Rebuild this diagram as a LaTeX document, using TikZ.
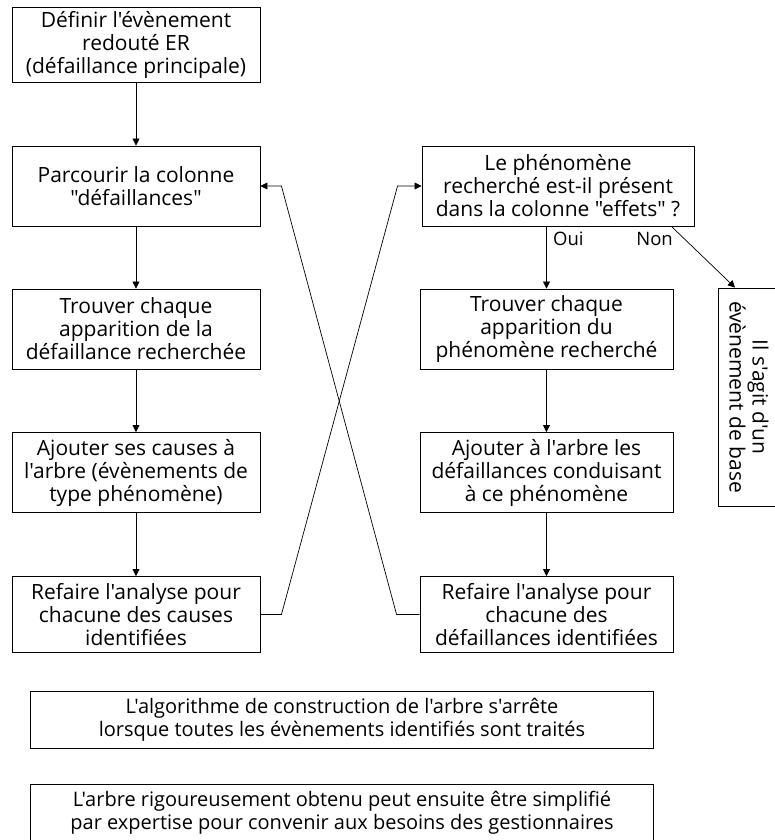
\documentclass[tikz,border=0pt]{standalone}
\usepackage{fontspec}
\newfontfamily\uifont{Open Sans}
\usetikzlibrary{arrows.meta}

\tikzset{
  stepbox/.style={draw, line width=0.9pt, align=center, inner sep=2pt,
    font=\uifont\fontsize{21}{23}\selectfont},
  leftbox/.style={stepbox, minimum width=248pt, minimum height=80pt},
  rightbox/.style={stepbox, minimum width=253pt, minimum height=80pt},
  notebox/.style={stepbox, minimum width=623pt, minimum height=57pt,
    font=\uifont\fontsize{20}{22.5}\selectfont},
  link/.style={->, line width=0.7pt},
  answer/.style={font=\uifont\fontsize{18.5}{20}\selectfont, inner sep=1pt}
}

\begin{document}
\begin{tikzpicture}[x=1pt, y=-1pt, >={Triangle[length=7pt,width=7pt]}]
  \useasboundingbox (0,0) rectangle (774,840);

  % left column
  \node[leftbox, minimum height=75pt] (define) at (136,44.5) {Définir l'évènement\\redouté ER\\(défaillance principale)};
  \node[leftbox] (browse) at (136,186) {Parcourir la colonne\\"défaillances"};
  \node[leftbox] (findfail) at (136,329) {Trouver chaque\\apparition de la\\défaillance recherchée};
  \node[leftbox] (addcause) at (136,472.5) {Ajouter ses causes à\\l'arbre (évènements de\\type phénomène)};
  \node[leftbox, minimum height=76pt] (redocause) at (136,614.5) {Refaire l'analyse pour\\chacune des causes\\identifiées};

  % right column
  \node[stepbox, minimum width=272pt, minimum height=80pt] (present) at (558,186) {Le phénomène\\recherché est-il présent\\dans la colonne "effets" ?};
  \node[rightbox] (findphen) at (546.5,329) {Trouver chaque\\apparition du\\phénomène recherché};
  \node[rightbox] (addfail) at (546.5,472.5) {Ajouter à l'arbre les\\défaillances conduisant\\à ce phénomène};
  \node[rightbox, minimum height=76pt] (redofail) at (546.5,614.5) {Refaire l'analyse pour\\chacune des\\défaillances identifiées};
  \node[stepbox, rotate=-90, minimum width=218pt, minimum height=62pt] (base) at (749,397) {Il s'agit d'un\\évènement de base};

  % notes
  \node[notebox] (stop) at (342,719.5) {L'algorithme de construction de l'arbre s'arrête\\lorsque toutes les évènements identifiés sont traités};
  \node[notebox] (simplify) at (342,812.5) {L'arbre rigoureusement obtenu peut ensuite être simplifié\\par expertise pour convenir aux besoins des gestionnaires};

  \draw[link] (define) -- (browse);
  \draw[link] (browse) -- (findfail);
  \draw[link] (findfail) -- (addcause);
  \draw[link] (addcause) -- (redocause);

  \draw[link] (present.south -| findphen) -- (findphen);
  \draw[link] (findphen) -- (addfail);
  \draw[link] (addfail) -- (redofail);
  \draw[link] ([xshift=-23pt]present.south east) -- ([xshift=-14pt]base.west);

  \node[answer, right] (oui) at (552,239) {Oui};
  \node[answer, left] (non) at (674,239) {Non};

  % loops back
  \draw[link] (redocause.east) -- ++(21,0) -- ([xshift=-24pt]present.west) -- (present.west);
  \draw[link] (redofail.west) -- ++(-23,0) -- ([xshift=21pt]browse.east) -- (browse.east);
\end{tikzpicture}
\end{document}
